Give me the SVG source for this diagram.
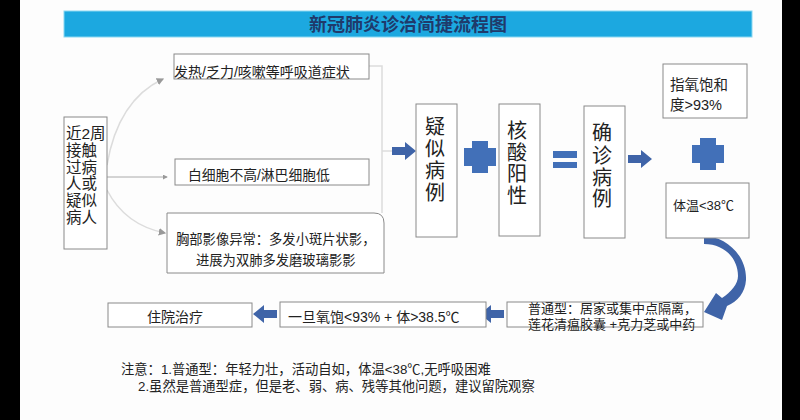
<svg xmlns="http://www.w3.org/2000/svg" xmlns:xlink="http://www.w3.org/1999/xlink" width="800" height="420" viewBox="0 0 800 420">
<style>
.t{font-family:"Liberation Sans","Noto Sans CJK SC",sans-serif;fill:#222}
.box{fill:#fff;stroke:#8a8a8a;stroke-width:1}
.blue{fill:#4270b8}
.arr{fill:#3f64a8}
.faint{fill:none;stroke:#dcdcdc;stroke-width:1.5}
.v{font-size:20px;text-anchor:middle}
</style>
<defs>
<path id="arrowR" d="M0,-4 H13 V-9 L24,0 L13,9 V4 H0 Z"/>
<path id="plus" d="M-8,-16 H8 V-9 H16 V9 H8 V16 H-8 V9 H-16 V-9 H-8 Z"/>
<marker id="sm" viewBox="0 0 6 6" refX="5" refY="3" markerWidth="5" markerHeight="5" orient="auto"><path d="M0,0 L6,3 L0,6 Z" fill="#999"/></marker>
</defs>
<rect width="800" height="420" fill="#fdfdfd"/>
<rect x="0" y="0" width="20" height="420" fill="#000"/>
<rect x="782" y="0" width="18" height="420" fill="#000"/>

<g id="title">
<rect x="64" y="11" width="688" height="26" fill="#1ca8e0" stroke="#8ad8f2" stroke-width="1"/>
<text class="t" x="408" y="31" font-size="18" font-weight="bold" text-anchor="middle" style="fill:#1f3a6b">新冠肺炎诊治简捷流程图</text>
</g>

<g id="connectors">
<path class="faint" d="M107,165 Q118,100 163,79" marker-end="url(#sm)"/>
<path d="M107,177 H167" fill="none" stroke="#aaa" stroke-width="1" marker-end="url(#sm)"/>
<path class="faint" d="M107,190 Q125,225 165,233" marker-end="url(#sm)"/>
<path class="faint" d="M369,66 H382 V213"/>
<path class="faint" d="M382,151 H392"/>
<use xlink:href="#arrowR" class="arr" transform="translate(392,151)"/>
<use xlink:href="#arrowR" class="arr" transform="translate(628,159)"/>
<use xlink:href="#arrowR" class="arr" transform="translate(504,314) scale(-1,1)"/>
<use xlink:href="#arrowR" class="arr" transform="translate(277,314) scale(-1,1)"/>
<path class="arr" d="M704,236 C724,236 747,254 746,280 C745,293 738,301 727,306 L722,320 L704,312 L716,293 L722,298 C731,292 738,284 738,276 C738,258 724,244 704,244 Z"/>
</g>

<g id="contact">
<rect class="box" x="64" y="117" width="43" height="132"/>
<text class="t" font-size="15.5"><tspan x="66" y="139">近2周</tspan><tspan x="66" y="156">接触</tspan><tspan x="66" y="173">过病</tspan><tspan x="66" y="189">人或</tspan><tspan x="66" y="206">疑似</tspan><tspan x="66" y="223">病人</tspan></text>
</g>

<g id="symptom">
<rect class="box" x="174" y="54" width="195" height="25"/>
<text class="t" x="174" y="77" font-size="14">发热/乏力/咳嗽等呼吸道症状</text>
</g>

<g id="blood">
<rect class="box" x="175" y="159" width="194" height="26"/>
<text class="t" x="188" y="180" font-size="13.8">白细胞不高/淋巴细胞低</text>
</g>

<g id="ct">
<path class="box" d="M167,213 H374 Q384,213 384,223 V273 H167 Z"/>
<text class="t" font-size="13.3"><tspan x="176" y="244">胸部影像异常：多发小斑片状影，</tspan><tspan x="196" y="265">进展为双肺多发磨玻璃影影</tspan></text>
</g>

<g id="suspect">
<rect class="box" x="416" y="104" width="41" height="133"/>
<text class="t v"><tspan x="435" y="134">疑</tspan><tspan x="435" y="156">似</tspan><tspan x="435" y="178">病</tspan><tspan x="435" y="200">例</tspan></text>
</g>

<g id="plus1"><use xlink:href="#plus" class="blue" transform="translate(480,157)"/></g>

<g id="nucleic">
<rect class="box" x="499" y="104" width="41" height="132"/>
<text class="t v"><tspan x="517" y="138">核</tspan><tspan x="517" y="160">酸</tspan><tspan x="517" y="181">阳</tspan><tspan x="517" y="203">性</tspan></text>
</g>

<g id="equals">
<rect class="blue" x="553" y="151" width="24" height="7"/>
<rect class="blue" x="553" y="162" width="24" height="6"/>
</g>

<g id="confirmed">
<rect class="box" x="584" y="106" width="41" height="132"/>
<text class="t v"><tspan x="602" y="140">确</tspan><tspan x="602" y="163">诊</tspan><tspan x="602" y="185">病</tspan><tspan x="602" y="206">例</tspan></text>
</g>

<g id="spo2">
<rect class="box" x="663" y="64" width="84" height="54"/>
<text class="t" font-size="14.5"><tspan x="670" y="90">指氧饱和</tspan><tspan x="670" y="110">度&gt;93%</tspan></text>
</g>

<g id="plus2"><use xlink:href="#plus" class="blue" transform="translate(708,154)"/></g>

<g id="temp">
<rect class="box" x="666" y="183" width="83" height="55"/>
<text class="t" x="673" y="210" font-size="13">体温&lt;38℃</text>
</g>

<g id="common">
<rect class="box" x="507" y="302" width="196" height="25"/>
<text class="t" font-size="13"><tspan x="528" y="313">普通型：居家或集中点隔离，</tspan><tspan x="528" y="329">莲花清瘟胶囊 +克力芝或中药</tspan></text>
</g>

<g id="once">
<rect class="box" x="280" y="302" width="206" height="25"/>
<text class="t" x="288" y="322" font-size="14">一旦氧饱&lt;93% + 体&gt;38.5℃</text>
</g>

<g id="hospital">
<rect class="box" x="108" y="303" width="144" height="24"/>
<text class="t" x="175" y="322" font-size="14" text-anchor="middle">住院治疗</text>
</g>

<g id="notes">
<text class="t" font-size="13.3"><tspan x="121" y="374">注意：1.普通型：年轻力壮，活动自如，体温&lt;38℃,无呼吸困难</tspan><tspan x="138" y="391">2.虽然是普通型症，但是老、弱、病、残等其他问题，建议留院观察</tspan></text>
</g>
</svg>
